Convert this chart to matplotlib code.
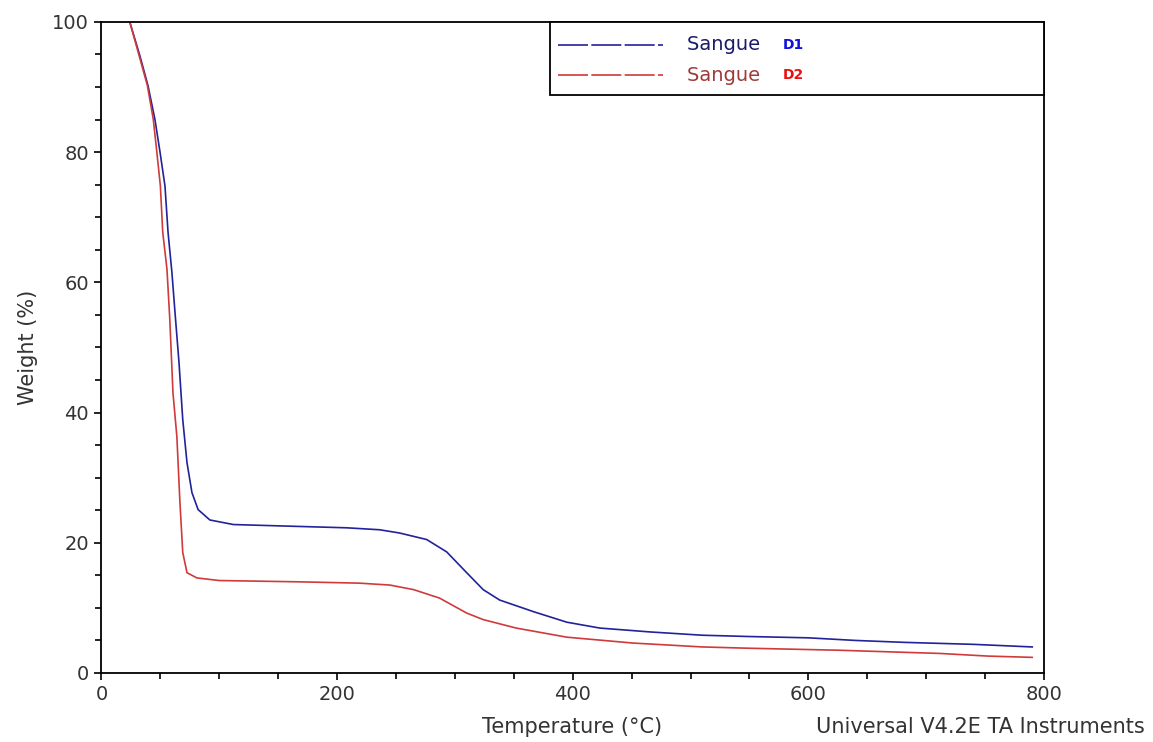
import matplotlib.pyplot as plt
from matplotlib.patches import Rectangle
from matplotlib.ticker import MultipleLocator

# TGA curves
temp_d1 = [24, 32.6, 39.5, 45.4, 49.7, 53.9, 56.5, 59.8, 62.4, 65.8, 69, 72.6, 76.8, 82, 92, 112,
           150, 208, 236, 253, 276, 293, 310, 324, 338, 367, 395, 423, 466, 510, 550, 600, 640,
           682, 740, 790]
weight_d1 = [100, 94.8, 90.2, 85, 80, 74.8, 67.7, 61.5, 55.4, 47.7, 38.9, 32.3, 27.7, 25.1, 23.5, 22.8,
             22.6, 22.3, 22.0, 21.5, 20.5, 18.6, 15.4, 12.8, 11.2, 9.4, 7.8, 6.9, 6.3, 5.8, 5.6, 5.4, 5.0,
             4.7, 4.4, 4.0]

temp_d2 = [24, 32, 39, 44, 47, 50, 52, 55.6, 58, 60.7, 64, 66.6, 69, 72.6, 81, 100,
           168, 219, 245, 265, 287, 310, 324, 352, 395, 451, 510, 550, 625, 712, 752, 790]
weight_d2 = [100, 94.8, 90.2, 85, 80, 74.8, 67.7, 62, 54.3, 43, 36.3, 26.2, 18.5, 15.4, 14.6, 14.2,
             14.0, 13.8, 13.5, 12.8, 11.5, 9.2, 8.2, 6.9, 5.5, 4.6, 4.0, 3.8, 3.5, 3.0, 2.6, 2.4]

series = [("Sangue ", "D1", "#22229a", "#1a1a6a", "#1010e0"),
          ("Sangue ", "D2", "#d03a3a", "#a03a3a", "#e81010")]

plt.rcParams['font.family'] = ['DejaVu Sans']

fig = plt.figure(figsize=(11.53, 7.42), dpi=100)
ax = fig.add_axes([0.088, 0.093, 0.8175, 0.8775])

ax.plot(temp_d1, weight_d1, color=series[0][2], lw=1.2)
ax.plot(temp_d2, weight_d2, color=series[1][2], lw=1.2)

ax.set_xlim(0, 800)
ax.set_ylim(0, 100)
ax.xaxis.set_major_locator(MultipleLocator(200))
ax.xaxis.set_minor_locator(MultipleLocator(50))
ax.yaxis.set_major_locator(MultipleLocator(20))
ax.yaxis.set_minor_locator(MultipleLocator(5))
ax.tick_params(which='major', direction='out', length=5, width=1.2, labelsize=14,
               labelcolor='#333333', pad=4)
ax.tick_params(which='minor', direction='out', length=4, width=1.2)
for sp in ax.spines.values():
    sp.set_linewidth(1.3)

ax.set_ylabel("Weight (%)", fontsize=15, color='#333333', labelpad=10)
fig.text(0.496, 0.012, "Temperature (°C)", fontsize=15, color='#333333', ha='center')
fig.text(0.993, 0.012, "Universal V4.2E TA Instruments", fontsize=15, color='#333333', ha='right')

# legend box drawn by hand to get the two-colour labels
ax.add_patch(Rectangle((0.476, 0.888), 0.524, 0.112, transform=ax.transAxes,
                       fill=True, facecolor='white', edgecolor='black', lw=1.3, clip_on=False, zorder=5))
rows_y = [0.965, 0.918]
for (name, tag, lc, tc, bc), y in zip(series, rows_y):
    ax.plot([0.484, 0.596], [y, y], transform=ax.transAxes, color=lc, lw=1.2,
            dashes=(18, 2), zorder=6, clip_on=False)
    ax.text(0.621, y, name, transform=ax.transAxes, fontsize=14, color=tc,
            va='center', zorder=6)
    ax.text(0.723, y, tag, transform=ax.transAxes, fontsize=10, color=bc,
            fontweight='bold', va='center', zorder=6)

fig.savefig("out.png", dpi=100)
